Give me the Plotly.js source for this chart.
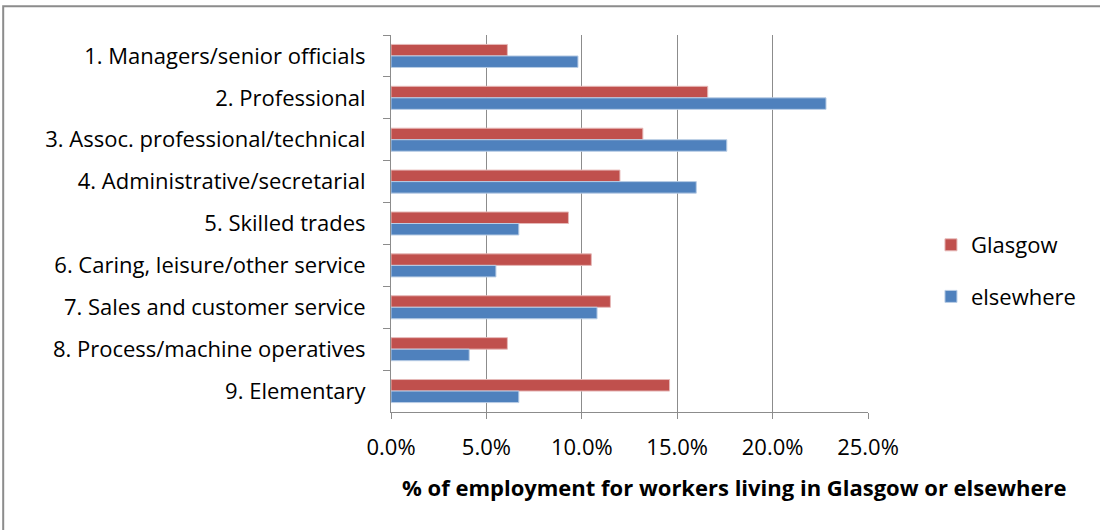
<!DOCTYPE html>
<html>
<head>
<meta charset="utf-8">
<script src="https://cdn.plot.ly/plotly-3.0.1.min.js"></script>
<style>html,body{margin:0;padding:0;background:#fff;}#chart{width:1100px;height:530px;}</style>
</head>
<body>
<div id="chart"></div>
<script>
const categories = [
  "1. Managers/senior officials",
  "2. Professional",
  "3. Assoc. professional/technical",
  "4. Administrative/secretarial",
  "5. Skilled trades",
  "6. Caring, leisure/other service",
  "7. Sales and customer service",
  "8. Process/machine operatives",
  "9. Elementary"
];
const glasgow = [6.1, 16.6, 13.2, 12.0, 9.3, 10.5, 11.5, 6.1, 14.6];
const elsewhere = [9.8, 22.8, 17.6, 16.0, 6.7, 5.5, 10.8, 4.1, 6.7];
const xTicks = [0, 5, 10, 15, 20, 25];
const xTickText = ["0.0%", "5.0%", "10.0%", "15.0%", "20.0%", "25.0%"];
const xTitle = "% of employment for workers living in Glasgow or elsewhere";

const font = "'Open Sans', sans-serif";
const traces = [
  {type: "bar", orientation: "h", name: "Glasgow", y: categories, x: glasgow,
   legendgroup: "g", marker: {color: "#C0504D", line: {color: "#E6B9B8", width: 1}}},
  {type: "bar", orientation: "h", name: "elsewhere", y: categories, x: elsewhere,
   legendgroup: "e", marker: {color: "#4F81BD", line: {color: "#B9CDE5", width: 1}}}
];
const layout = {
  width: 1100, height: 530,
  margin: {l: 391, r: 232, t: 35, b: 118},
  paper_bgcolor: "#fff", plot_bgcolor: "#fff",
  font: {family: font, size: 22, color: "#000"},
  barmode: "group", bargap: 0.45, bargroupgap: 0,
  showlegend: true,
  legend: {x: 1.132, xanchor: "left", y: 0.374, yanchor: "middle", tracegroupgap: 20,
           font: {family: font, size: 22, color: "#000"}, itemwidth: 30},
  xaxis: {range: [0, 25], tickvals: xTicks, ticktext: xTickText,
          showgrid: true, gridcolor: "#8C8C8C", gridwidth: 1,
          showline: true, linecolor: "#8C8C8C", linewidth: 1,
          ticks: "outside", ticklen: 6, tickcolor: "#8C8C8C",
          ticklabelstandoff: 10, zeroline: false, fixedrange: true},
  yaxis: {type: "category", autorange: "reversed", showline: true, linecolor: "#8C8C8C",
          ticks: "outside", ticklen: 7, tickcolor: "#8C8C8C", tickson: "boundaries",
          ticklabelstandoff: 20, showgrid: false, fixedrange: true},
  annotations: [{text: "<b>" + xTitle + "</b>", xref: "paper", yref: "paper",
                 x: 0.72, xanchor: "center", y: -0.2, yanchor: "middle", showarrow: false,
                 font: {family: font, size: 22, color: "#000"}}],
  shapes: [{type: "rect", xref: "paper", yref: "paper", x0: -0.813, x1: 1.6, y0: -0.4, y1: 1.076,
            line: {color: "#8C8C8C", width: 2}, fillcolor: "rgba(0,0,0,0)", layer: "below"}]
};
Plotly.newPlot("chart", traces, layout, {displayModeBar: false, staticPlot: true});
</script>
</body>
</html>
